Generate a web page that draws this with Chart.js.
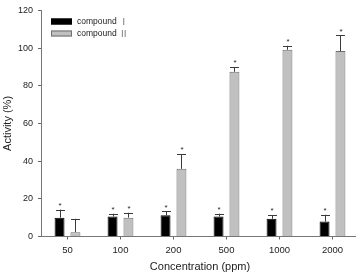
<!DOCTYPE html>
<html>
<head>
<meta charset="utf-8">
<script src="https://cdn.jsdelivr.net/npm/chart.js@4/dist/chart.umd.min.js"></script>
<style>
  html, body { margin: 0; padding: 0; overflow: hidden; background: #fff; }
  canvas { display: block; }
</style>
</head>
<body>
<canvas id="chart" width="359" height="272"></canvas>
<script>
// Data
const categories = ["50", "100", "200", "500", "1000", "2000"]
const compound1 = [10.0, 10.6, 11.3, 10.6, 9.4, 7.9]
const compound1Err = [4.3, 1.5, 2.0, 1.5, 1.9, 3.6]
const compound2 = [2.3, 10.0, 35.9, 87.4, 99.1, 98.4]
const compound2Err = [7.1, 2.6, 7.8, 2.6, 2.1, 8.3]
const compound1Sig = [true, true, true, true, true, true]
const compound2Sig = [false, true, true, true, true, true]
const yTicks = [0, 20, 40, 60, 80, 100, 120]

const seriesNames = ["compound", "compound"]
const seriesNumerals = ["\u2160", "\u2161"]
const errors = [compound1Err, compound2Err]
const significant = [compound1Sig, compound2Sig]

const FONT = "'Liberation Sans', Arial, sans-serif"

// Error bars + asterisks on top of each bar
const errorBars = {
  id: "errorBars",
  afterDatasetsDraw(chart) {
    const ctx = chart.ctx
    const y = chart.scales.y
    ctx.save()
    chart.data.datasets.forEach((ds, i) => {
      const meta = chart.getDatasetMeta(i)
      meta.data.forEach((bar, j) => {
        const v = ds.data[j]
        const top = y.getPixelForValue(v)
        const end = y.getPixelForValue(v + errors[i][j])
        ctx.strokeStyle = "#3a3a3a"
        ctx.lineWidth = 1
        ctx.beginPath()
        ctx.moveTo(Math.round(bar.x) + 0.5, top)
        ctx.lineTo(Math.round(bar.x) + 0.5, end)
        ctx.moveTo(Math.round(bar.x) - 4, Math.round(end) + 0.5)
        ctx.lineTo(Math.round(bar.x) + 5, Math.round(end) + 0.5)
        ctx.stroke()
        if (significant[i][j]) {
          ctx.fillStyle = "#222"
          ctx.font = "8px " + FONT
          ctx.textAlign = "center"
          ctx.textBaseline = "middle"
          ctx.fillText("*", bar.x + 0.5, end - 4)
        }
      })
    })
    ctx.restore()
  },
}

// Legend drawn inside the plot, top left
const insideLegend = {
  id: "insideLegend",
  afterDraw(chart) {
    const ctx = chart.ctx
    ctx.save()
    chart.data.datasets.forEach((ds, i) => {
      const ry = 18.5 + i * 12
      ctx.fillStyle = ds.backgroundColor
      ctx.fillRect(51, ry, 21, 6)
      ctx.strokeStyle = ds.borderColor
      ctx.lineWidth = 1
      ctx.strokeRect(51.5, ry + 0.5, 20, 5)
      ctx.font = "8.5px " + FONT
      ctx.textAlign = "left"
      ctx.textBaseline = "middle"
      ctx.fillStyle = "#222"
      ctx.fillText(seriesNames[i], 77, ry + 3)
      const w = ctx.measureText(seriesNames[i] + " ").width
      ctx.fillStyle = "#777"
      ctx.font = "9.5px 'Noto Sans CJK JP', " + FONT
      ctx.fillText(seriesNumerals[i], 77 + w, ry + 3)
    })
    ctx.restore()
  },
}

new Chart(document.getElementById("chart"), {
  type: "bar",
  data: {
    labels: categories,
    datasets: [
      {
        label: "compound I",
        data: compound1,
        backgroundColor: "#000000",
        borderColor: "#000000",
        borderWidth: 1,
        barPercentage: 0.625,
        categoryPercentage: 0.6,
      },
      {
        label: "compound II",
        data: compound2,
        backgroundColor: "#c0c0c0",
        borderColor: "#6e6e6e",
        borderWidth: 1,
        barPercentage: 0.625,
        categoryPercentage: 0.6,
      },
    ],
  },
  options: {
    responsive: false,
    animation: false,
    layout: { padding: { top: 8, left: 0, right: 0, bottom: 0 } },
    plugins: {
      legend: { display: false },
      tooltip: { enabled: false },
    },
    scales: {
      x: {
        afterFit: (s) => { s.height = 35.5 },
        grid: {
          offset: false,
          drawOnChartArea: false,
          tickLength: 3,
          tickColor: "#666",
        },
        border: { color: "#777", width: 1 },
        ticks: {
          color: "#222",
          padding: 5,
          font: { family: FONT, size: 9.5 },
        },
        title: {
          display: true,
          text: "Concentration (ppm)",
          color: "#222",
          padding: 0,
          font: { family: FONT, size: 11, lineHeight: 1 },
        },
      },
      y: {
        min: 0,
        max: 120,
        afterFit: (s) => { s.width = 41 },
        afterBuildTicks: (s) => { s.ticks = yTicks.map((v) => ({ value: v })) },
        grid: {
          drawOnChartArea: false,
          tickLength: 3,
          tickColor: "#666",
        },
        border: { color: "#777", width: 1 },
        ticks: {
          color: "#222",
          padding: 5,
          font: { family: FONT, size: 9 },
        },
        title: {
          display: true,
          text: "Activity (%)",
          color: "#222",
          padding: { top: 2.5, bottom: 0 },
          font: { family: FONT, size: 11, lineHeight: 1 },
        },
      },
    },
  },
  plugins: [errorBars, insideLegend],
})
</script>
</body>
</html>
